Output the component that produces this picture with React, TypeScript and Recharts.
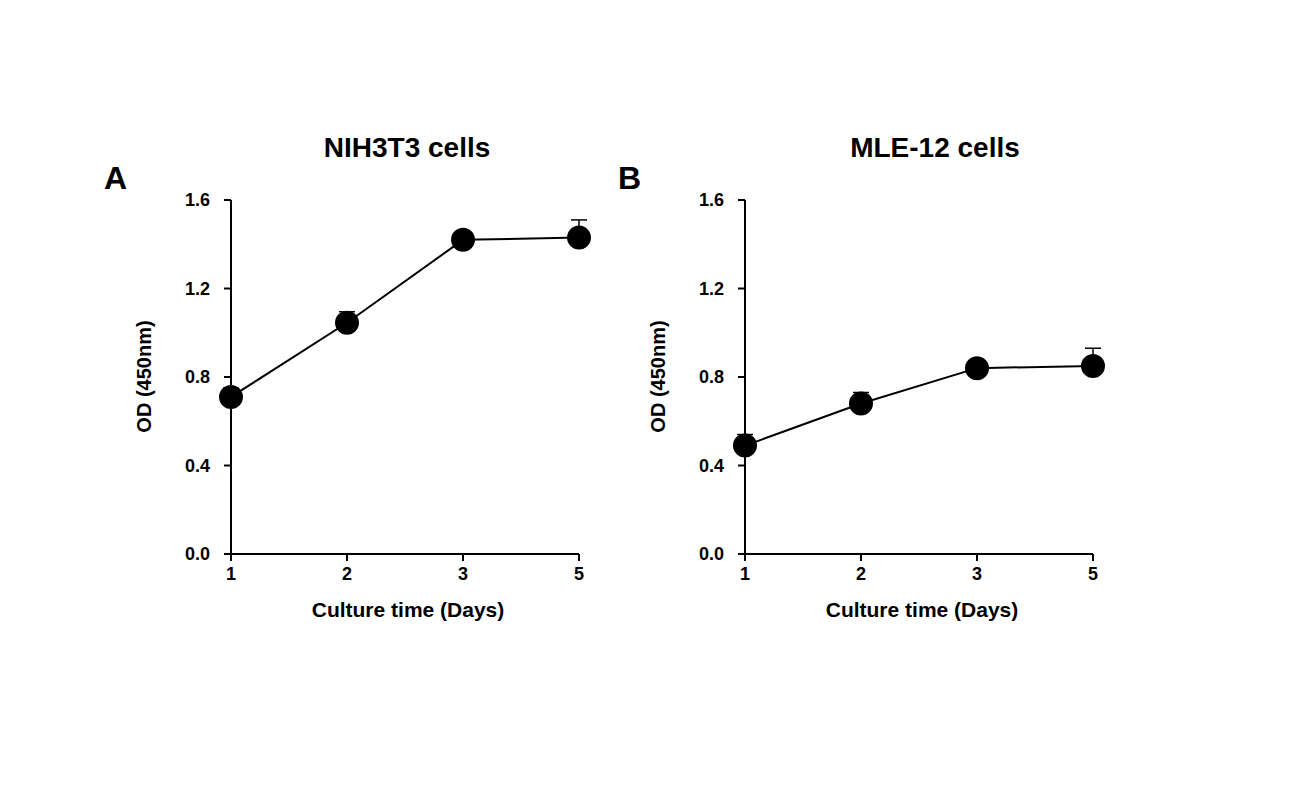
import { LineChart, Line, XAxis, YAxis, ErrorBar } from "recharts";

const days = ["1", "2", "3", "5"];
const nihValues = [0.71, 1.045, 1.42, 1.43];
const nihErrors = [0.04, 0.05, 0.02, 0.08];
const mleValues = [0.49, 0.68, 0.84, 0.85];
const mleErrors = [0.05, 0.05, 0.02, 0.08];
const yTicks = [0, 0.4, 0.8, 1.2, 1.6];

const font = "'Liberation Sans', Arial, sans-serif";
const tickStyle = { fill: "#000", fontSize: 18, fontWeight: 700, fontFamily: font };

const build = (vals: number[], errs: number[]) =>
  days.map((d, i) => ({ day: d, od: vals[i], err: [0, errs[i]] }));

const Panel = ({ left, letter, title, titleCenter, vals, errs }: { left: number; letter: string; title: string; titleCenter: number; vals: number[]; errs: number[] }) => (
  <>
    <div style={{ position: "absolute", left: left - 50, top: 160, fontSize: 32, fontWeight: 700, fontFamily: font }}>{letter}</div>
    <div style={{ position: "absolute", left: titleCenter - 150, width: 300, top: 132, textAlign: "center", fontSize: 28, fontWeight: 700, fontFamily: font }}>{title}</div>
    <div style={{ position: "absolute", left: left - 110, width: 200, top: 365, textAlign: "center", transform: "rotate(-90deg)", fontSize: 20, fontWeight: 700, fontFamily: font }}>OD (450nm)</div>
    <div style={{ position: "absolute", left: left + 54, width: 400, top: 598, textAlign: "center", fontSize: 21, fontWeight: 700, fontFamily: font }}>Culture time (Days)</div>
    <div style={{ position: "absolute", left: left - 14, top: 150 }}>
      <LineChart width={459} height={504} data={build(vals, errs)} margin={{ top: 50, right: 20, left: 0, bottom: 70 }}>
        <XAxis dataKey="day" stroke="#000" strokeWidth={2} tickSize={7} tickMargin={6} height={30} tick={tickStyle} />
        <YAxis domain={[0, 1.6]} ticks={yTicks} width={91} stroke="#000" strokeWidth={2} tickSize={7} tickMargin={14} tickFormatter={(v: number) => v.toFixed(1)} tick={tickStyle} />
        <Line dataKey="od" stroke="#000" strokeWidth={2} isAnimationActive={false} dot={{ r: 11, fill: "#000", stroke: "#000" }}>
          <ErrorBar dataKey="err" direction="y" width={8} stroke="#000" strokeWidth={1.5} isAnimationActive={false} />
        </Line>
      </LineChart>
    </div>
  </>
);

export default function App() {
  return (
    <div style={{ position: "absolute", left: 0, top: 0, width: 1302, height: 792, background: "#fff" }}>
      <Panel left={154} letter="A" title="NIH3T3 cells" titleCenter={407} vals={nihValues} errs={nihErrors} />
      <Panel left={668} letter="B" title="MLE-12 cells" titleCenter={935} vals={mleValues} errs={mleErrors} />
    </div>
  );
}
